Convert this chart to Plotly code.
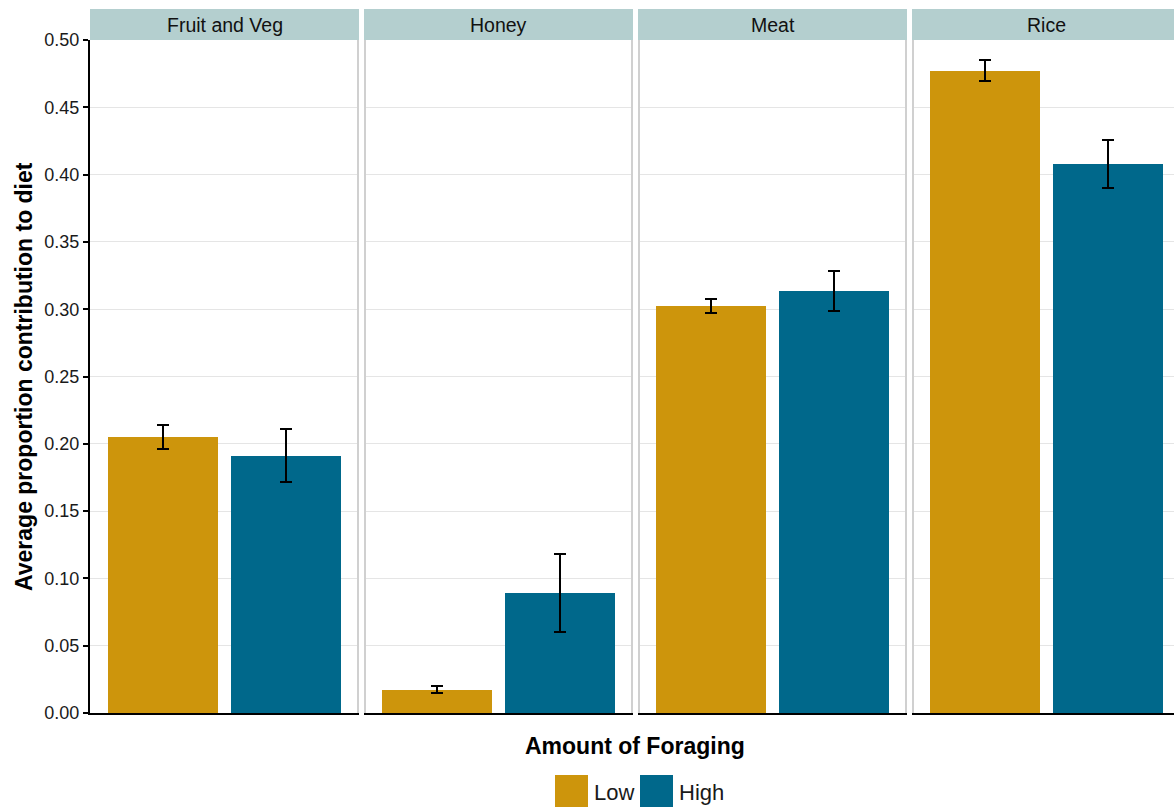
import plotly.graph_objects as go
from plotly.subplots import make_subplots

# ---- data ----
foods = ["Fruit and Veg", "Honey", "Meat", "Rice"]
levels = ["Low", "High"]
low_mean = [0.205, 0.0171, 0.3024, 0.4770]
high_mean = [0.1910, 0.0892, 0.3135, 0.4079]
low_err = [0.0090, 0.0026, 0.0052, 0.0078]
high_err = [0.0197, 0.0293, 0.0149, 0.0178]
y_ticks = [0.00, 0.05, 0.10, 0.15, 0.20, 0.25, 0.30, 0.35, 0.40, 0.45, 0.50]

LOW_COL = "#CD950C"
HIGH_COL = "#00688B"
STRIP_COL = "#B4CFCF"
FONT = "Liberation Sans, Arial, Helvetica, sans-serif"

W, H = 1174, 807


def px(x):
    return x / W


def py(y):
    return 1 - y / H


panels_px = [(90, 359), (364, 633), (638, 907), (912, 1174)]
unit = (359 - 90) / 2.2  # pixels per category unit
top_px, bot_px = 40, 713

fig = make_subplots(rows=1, cols=4, shared_yaxes=True)

for i, food in enumerate(foods):
    fig.add_trace(
        go.Bar(
            x=levels,
            y=[low_mean[i], high_mean[i]],
            width=0.9,
            marker=dict(color=[LOW_COL, HIGH_COL], line=dict(width=0)),
            error_y=dict(type="data", array=[low_err[i], high_err[i]],
                         color="black", thickness=2, width=6),
            showlegend=False,
            hoverinfo="x+y",
            name=food,
        ),
        row=1, col=i + 1,
    )

shapes = []
annotations = []
for i, (a, b) in enumerate(panels_px):
    xa = "xaxis" if i == 0 else f"xaxis{i + 1}"
    ya = "yaxis" if i == 0 else f"yaxis{i + 1}"
    rng_hi = -0.6 + (b - a) / unit
    fig.layout[xa].update(
        domain=[px(a), px(b)],
        range=[-0.6, rng_hi],
        showticklabels=False, ticks="", showgrid=False, zeroline=False,
        showline=True, linecolor="black", linewidth=2, automargin=False,
    )
    fig.layout[ya].update(
        domain=[py(bot_px), py(top_px)],
        range=[0, 0.5],
        tickvals=y_ticks,
        showgrid=True, gridcolor="#E5E5E5", gridwidth=1,
        zeroline=False, automargin=False,
    )
    # strip
    shapes.append(dict(type="rect", xref="paper", yref="paper",
                       x0=px(a), x1=px(b), y0=py(top_px), y1=py(9),
                       fillcolor=STRIP_COL, line=dict(width=0), layer="below"))
    cx = (a + b) / 2 if i < 3 else a + 269 / 2
    annotations.append(dict(text=foods[i], xref="paper", yref="paper",
                            x=px(cx), y=py(25), showarrow=False,
                            font=dict(size=19.5, color="#111111", family=FONT),
                            xanchor="center", yanchor="middle"))
    # panel side borders
    if i > 0:
        shapes.append(dict(type="line", xref="paper", yref="paper",
                           x0=px(a + 1), x1=px(a + 1), y0=py(bot_px), y1=py(top_px),
                           line=dict(color="#D0D0D0", width=2), layer="above"))
    if i < 3:
        shapes.append(dict(type="line", xref="paper", yref="paper",
                           x0=px(b - 1), x1=px(b - 1), y0=py(bot_px), y1=py(top_px),
                           line=dict(color="#D0D0D0", width=2), layer="above"))

fig.layout.yaxis.update(
    showticklabels=True, tickformat=".2f",
    ticks="outside", ticklen=5, tickwidth=1.5, tickcolor="black",
    tickfont=dict(size=18, color="#1a1a1a", family=FONT),
    showline=True, linecolor="black", linewidth=2,
)

# axis titles
annotations.append(dict(text="<b>Amount of Foraging</b>", xref="paper", yref="paper",
                        x=px(635), y=py(746), showarrow=False,
                        font=dict(size=23, color="black", family=FONT),
                        xanchor="center", yanchor="middle"))
annotations.append(dict(text="<b>Average proportion contribution to diet</b>",
                        xref="paper", yref="paper",
                        x=px(24), y=py(377), showarrow=False, textangle=-90,
                        font=dict(size=23, color="black", family=FONT),
                        xanchor="center", yanchor="middle"))

# legend (drawn manually for large key squares)
legend_items = [(levels[0], LOW_COL, 555), (levels[1], HIGH_COL, 640)]
for lab, col, x0 in legend_items:
    shapes.append(dict(type="rect", xref="paper", yref="paper",
                       x0=px(x0), x1=px(x0 + 33), y0=py(807), y1=py(775),
                       fillcolor=col, line=dict(width=0)))
    annotations.append(dict(text=lab, xref="paper", yref="paper",
                            x=px(x0 + 37), y=py(792), showarrow=False,
                            font=dict(size=22, color="#1a1a1a", family=FONT),
                            xanchor="left", yanchor="middle"))

fig.update_layout(
    width=W, height=H,
    margin=dict(l=0, r=0, t=0, b=0, pad=0, autoexpand=False),
    paper_bgcolor="white", plot_bgcolor="white",
    shapes=shapes, annotations=annotations,
    showlegend=False,
    bargap=0,
)

fig.write_html("out.html", config={"displayModeBar": False},
               post_script="document.body.style.margin='0px';")
